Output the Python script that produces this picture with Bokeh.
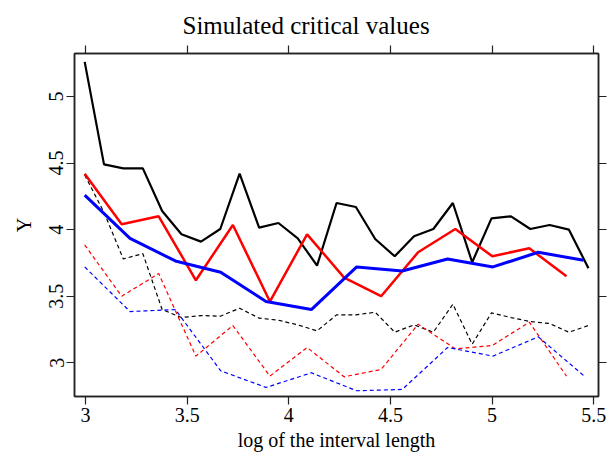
from bokeh.plotting import figure
from bokeh.models import LinearAxis, FixedTicker, Range1d, CustomJSTickFormatter
from bokeh.embed import file_html
from bokeh.resources import INLINE

# x grids (log of the interval length)
x_k = [2.996, 3.091, 3.186, 3.282, 3.377, 3.472, 3.568, 3.663, 3.758, 3.854, 3.949, 4.044, 4.139,
       4.235, 4.330, 4.425, 4.521, 4.616, 4.711, 4.807, 4.902, 4.997, 5.093, 5.188, 5.283, 5.378, 5.474]
x_r = [2.996, 3.178, 3.360, 3.543, 3.725, 3.907, 4.090, 4.272, 4.454, 4.636, 4.819, 5.001, 5.183, 5.366]
x_b = [2.996, 3.219, 3.442, 3.665, 3.888, 4.111, 4.334, 4.558, 4.781, 5.004, 5.227, 5.450]

black_solid = [5.26, 4.49, 4.46, 4.46, 4.14, 3.965, 3.91, 4.005, 4.42, 4.015, 4.05, 3.935, 3.73, 4.20,
               4.17, 3.93, 3.80, 3.95, 4.005, 4.20, 3.755, 4.085, 4.10, 4.005, 4.035, 4.00, 3.71]
black_dash = [4.41, 4.13, 3.78, 3.82, 3.40, 3.34, 3.355, 3.35, 3.41, 3.335, 3.32, 3.285, 3.24, 3.36,
              3.36, 3.38, 3.23, 3.285, 3.23, 3.44, 3.14, 3.375, 3.34, 3.31, 3.295, 3.23, 3.28]
red_solid = [4.42, 4.04, 4.10, 3.62, 4.035, 3.46, 3.965, 3.64, 3.50, 3.83, 4.005, 3.80, 3.86, 3.65]
red_dash = [3.885, 3.50, 3.67, 3.05, 3.28, 2.90, 3.115, 2.895, 2.95, 3.29, 3.105, 3.13, 3.305, 2.90]
blue_solid = [4.26, 3.935, 3.765, 3.68, 3.46, 3.40, 3.72, 3.69, 3.78, 3.72, 3.83, 3.77]
blue_dash = [3.72, 3.385, 3.40, 2.94, 2.815, 2.925, 2.79, 2.80, 3.115, 3.05, 3.195, 2.905]

x_ticks = [3, 3.5, 4, 4.5, 5, 5.5]
y_ticks = [3, 3.5, 4, 4.5, 5]
title_text = "Simulated critical values"

FONT = "'Liberation Serif', 'Times New Roman', serif"

p = figure(width=608, height=461, output_backend="svg", toolbar_location=None,
           x_range=Range1d(2.9459, 5.5234), y_range=Range1d(2.747, 5.323),
           min_border_left=74, min_border_right=10, min_border_top=53, min_border_bottom=65,
           x_axis_location=None, y_axis_location=None)
p.grid.visible = False
p.outline_line_color = "#222222"
p.outline_line_width = 1.5
p.background_fill_color = "white"
p.border_fill_color = "white"

p.title.text = title_text
p.title.text_font = FONT
p.title.text_font_size = "25px"
p.title.text_font_style = "normal"
p.title.text_color = "black"
p.title.align = "left"
p.title.offset = 108
p.title.vertical_align = "bottom"
p.title.standoff = 14


def make_axis(ticks, show_labels, label=""):
    ax = LinearAxis(ticker=FixedTicker(ticks=ticks))
    ax.major_tick_out = 8
    ax.major_tick_in = 0
    ax.minor_tick_line_color = None
    ax.major_tick_line_color = "#222222"
    ax.major_tick_line_width = 1.2
    ax.axis_line_color = "#222222"
    ax.axis_line_width = 1.5
    ax.major_label_text_font = FONT
    ax.major_label_text_color = "black"
    if show_labels:
        ax.major_label_text_font_size = "20px"
        ax.major_label_standoff = 3
    else:
        ax.formatter = CustomJSTickFormatter(code="return ''")
        ax.major_label_text_font_size = "1px"
        ax.major_label_standoff = 0
    if label:
        ax.axis_label = label
        ax.axis_label_text_font = FONT
        ax.axis_label_text_font_style = "normal"
        ax.axis_label_text_font_size = "20px"
        ax.axis_label_text_color = "black"
    return ax


xb = make_axis(x_ticks, True, "log of the interval length")
xb.axis_label_standoff = 4
yl = make_axis(y_ticks, True, "Y")
yl.major_label_orientation = "vertical"
yl.axis_label_standoff = 12
xt = make_axis(x_ticks, False)
yr = make_axis(y_ticks, False)

p.add_layout(xb, "below")
p.add_layout(yl, "left")
p.add_layout(xt, "above")
p.add_layout(yr, "right")

p.line(x_k, black_dash, line_color="black", line_width=1.2, line_dash="4 3")
p.line(x_r, red_dash, line_color="red", line_width=1.2, line_dash="4 3")
p.line(x_b, blue_dash, line_color="blue", line_width=1.2, line_dash="4 3")
p.line(x_k, black_solid, line_color="black", line_width=2.2)
p.line(x_r, red_solid, line_color="red", line_width=2.5)
p.line(x_b, blue_solid, line_color="blue", line_width=3)

open("out.html", "w").write(file_html(p, INLINE))
